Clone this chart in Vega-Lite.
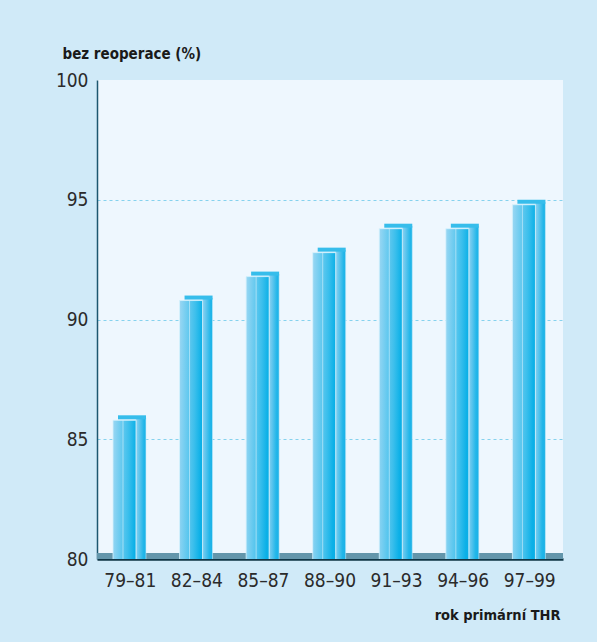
{
  "$schema": "https://vega.github.io/schema/vega-lite/v6.json",
  "width": 466,
  "height": 479,
  "autosize": {"type": "none"},
  "padding": {"left": 97, "top": 80, "right": 34, "bottom": 83},
  "background": "#d0eaf8",
  "config": {
    "view": {"fill": "#eef7fe", "stroke": null},
    "font": "DejaVu Sans Condensed, Roboto, sans-serif"
  },
  "datasets": {
    "bars": [
      {"obdobi": "79–81", "value": 86},
      {"obdobi": "82–84", "value": 91},
      {"obdobi": "85–87", "value": 92},
      {"obdobi": "88–90", "value": 93},
      {"obdobi": "91–93", "value": 94},
      {"obdobi": "94–96", "value": 94},
      {"obdobi": "97–99", "value": 95}
    ],
    "floor": [{"lo": 80, "hi": 80.25}]
  },
  "layer": [
    {
      "data": {"name": "floor"},
      "mark": {"type": "rect", "color": "#6396ab"},
      "encoding": {
        "y": {"field": "lo", "type": "quantitative", "scale": {"domain": [80, 100]},
          "axis": {
            "values": [80, 85, 90, 95, 100],
            "title": "bez reoperace (%)",
            "titleAngle": 0, "titleAlign": "left", "titleBaseline": "alphabetic",
            "titleX": -35, "titleY": -22,
            "titleFont": "DejaVu Sans Condensed, Roboto, sans-serif", "titleFontSize": 15, "titleFontWeight": "bold", "titleColor": "#1a1a1a",
            "labelFont": "DejaVu Sans Condensed, Roboto, sans-serif", "labelFontSize": 19, "labelColor": "#2b2b2b", "labelPadding": 9,
            "ticks": false,
            "domainColor": "#1d5770", "domainWidth": 1.5,
            "grid": true, "gridColor": "#86d2ee", "gridDash": [3, 3], "gridWidth": 1,
            "gridOpacity": {"condition": {"test": "datum.value == 80 || datum.value == 100", "value": 0}, "value": 1}
          }
        },
        "y2": {"field": "hi"}
      }
    },
    {
      "data": {"name": "bars"},
      "layer": [
        {
          "mark": {"type": "bar", "width": 10, "xOffset": 10.7, "yOffset": 2.5, "clip": true,
            "color": {"gradient": "linear", "x1": 0, "y1": 0, "x2": 1, "y2": 1,
              "stops": [{"offset": 0, "color": "#8fd2f1"}, {"offset": 0.4, "color": "#22b6e9"}, {"offset": 1, "color": "#00a2e1"}]},
            "stroke": "#c9ecfa", "strokeWidth": 0.6},
          "encoding": {
            "x": {"field": "obdobi", "type": "nominal", "sort": null, "scale": {"paddingInner": 0, "paddingOuter": 0}},
            "y": {"field": "value", "type": "quantitative"}
          }
        },
        {
          "mark": {"type": "bar", "width": 23, "xOffset": -5.8, "yOffset": 5, "clip": true,
            "color": {"gradient": "linear", "x1": 0, "y1": 0, "x2": 1, "y2": 1,
              "stops": [{"offset": 0, "color": "#9ad7f3"}, {"offset": 0.35, "color": "#3cbfec"}, {"offset": 0.5, "color": "#0bb0e7"}, {"offset": 1, "color": "#009ddf"}]},
            "stroke": "#d6f1fc", "strokeWidth": 0.8},
          "encoding": {
            "x": {"field": "obdobi", "type": "nominal", "sort": null,
              "axis": {
                "title": "rok primární THR",
                "titleAlign": "right", "titleBaseline": "alphabetic", "titleX": 463, "titleY": 60,
                "titleFont": "DejaVu Sans Condensed, Roboto, sans-serif", "titleFontSize": 14.5, "titleFontWeight": "bold", "titleColor": "#1a1a1a",
                "labelFont": "DejaVu Sans Condensed, Roboto, sans-serif", "labelFontSize": 19, "labelColor": "#2b2b2b", "labelPadding": 12,
                "labelAngle": 0, "labelAlign": "center", "labelBaseline": "top", "ticks": false,
                "domainColor": "#0f3545", "domainWidth": 2.5
              }
            },
            "y": {"field": "value", "type": "quantitative"}
          }
        },
        {
          "mark": {"type": "rule", "xOffset": -7.3, "yOffset": 5, "clip": true, "color": "#e2f5fd", "strokeWidth": 0.8, "opacity": 0.7},
          "encoding": {
            "x": {"field": "obdobi", "type": "nominal", "sort": null},
            "y": {"field": "value", "type": "quantitative"},
            "y2": {"datum": 80}
          }
        },
        {
          "mark": {"type": "tick", "orient": "horizontal", "size": 28, "thickness": 4, "xOffset": 1.7, "yOffset": 2, "color": "#36bdeb", "opacity": 1},
          "encoding": {
            "x": {"field": "obdobi", "type": "nominal", "sort": null},
            "y": {"field": "value", "type": "quantitative"}
          }
        }
      ]
    }
  ]
}
